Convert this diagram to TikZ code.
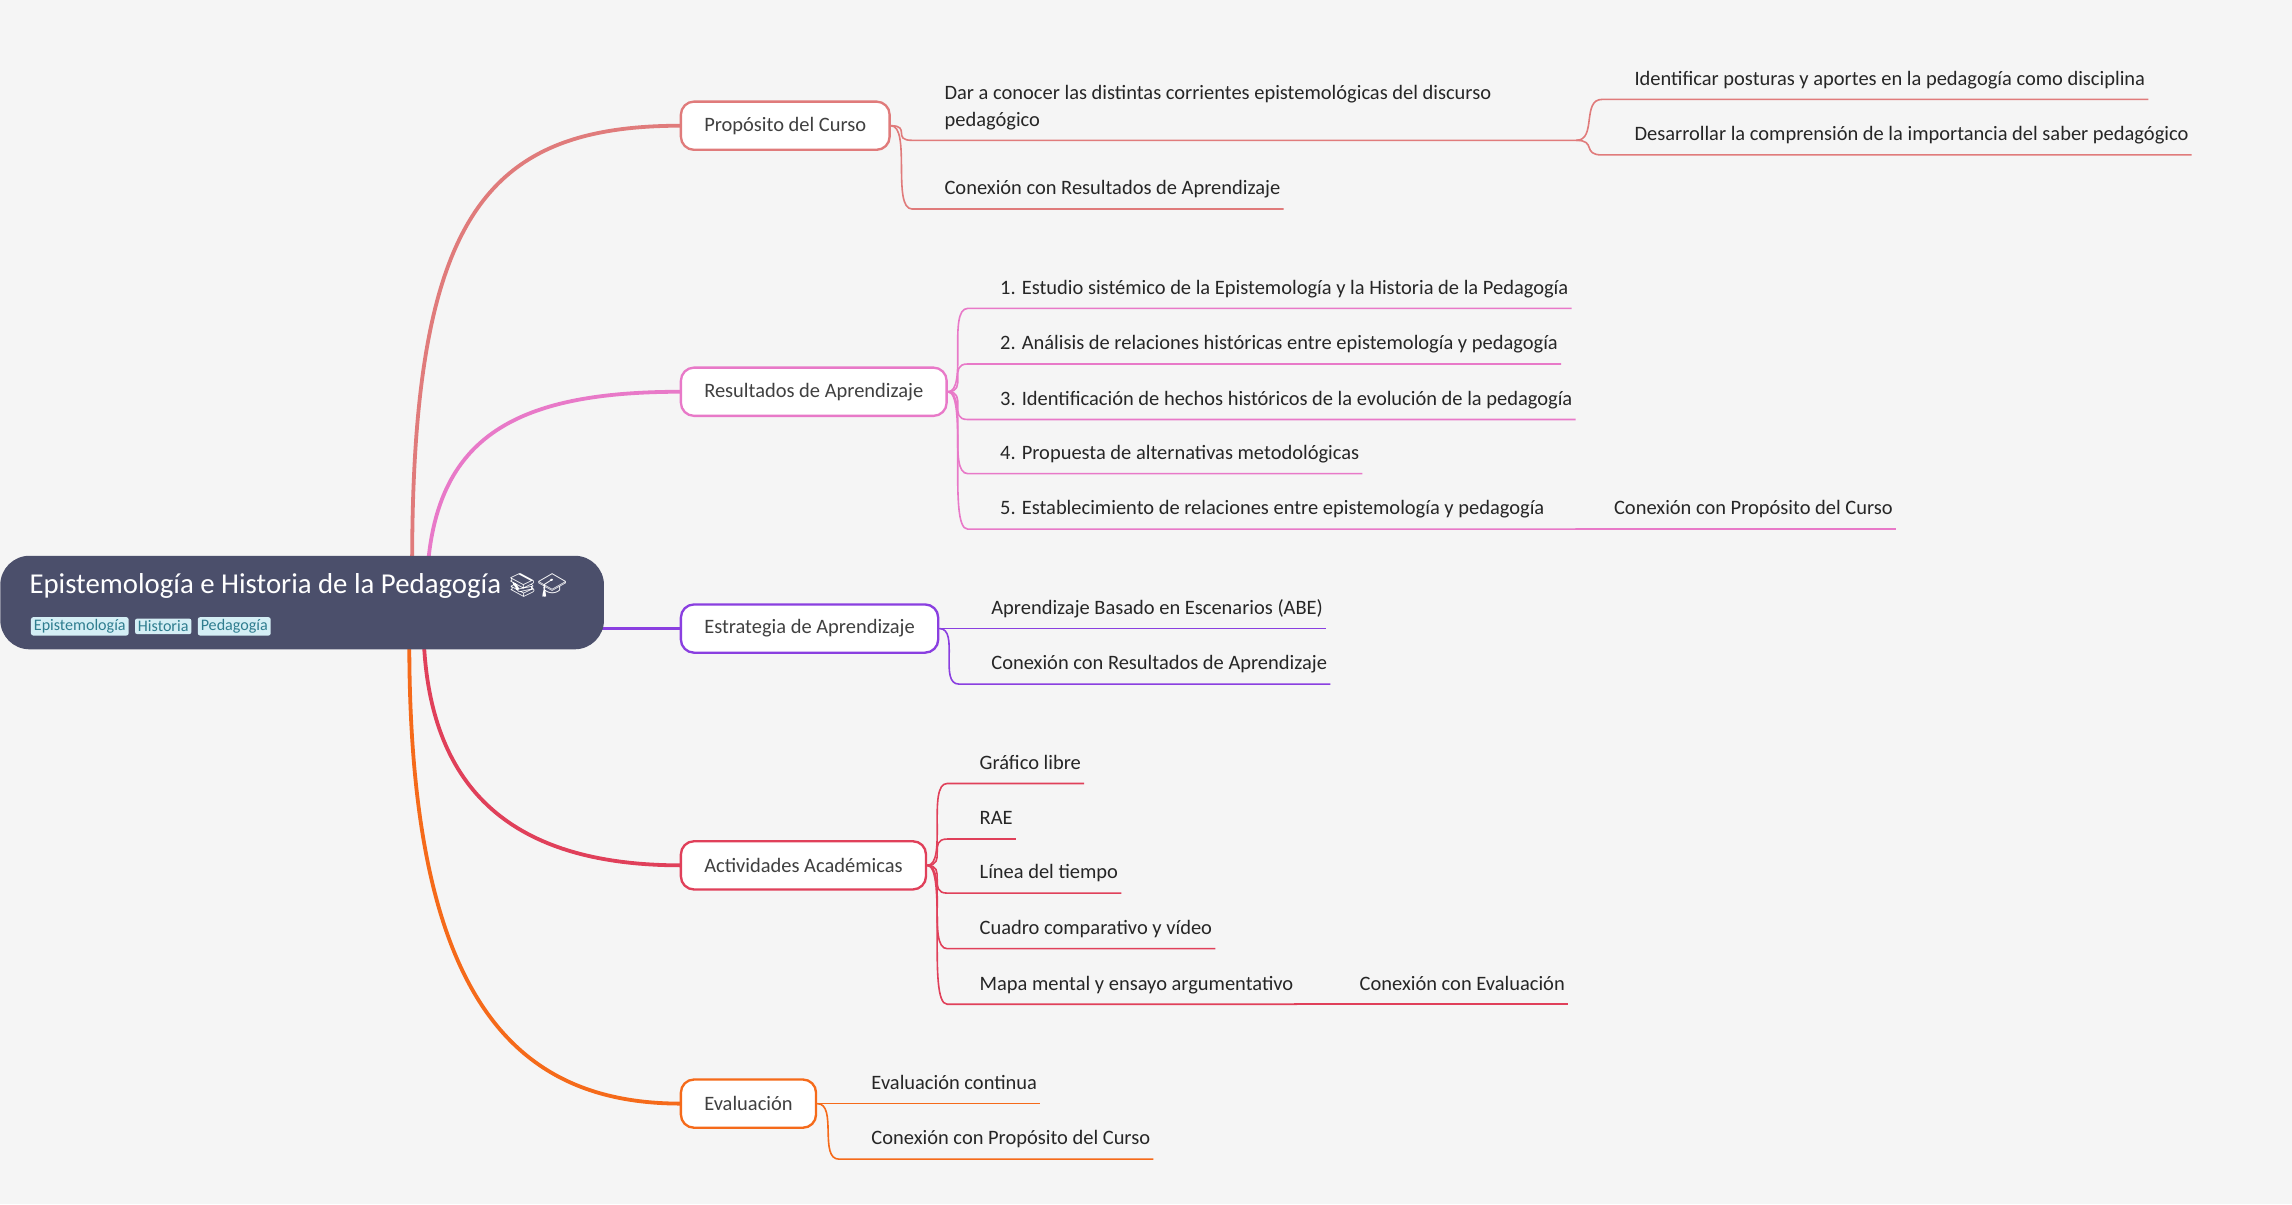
\documentclass[tikz,border=0pt]{standalone}
\usepackage{fontspec}
\usetikzlibrary{positioning}
\setmainfont{Carlito}
\newfontfamily\emojifont{Noto Emoji}
\definecolor{bgc}{HTML}{F5F5F5}
\definecolor{rootc}{HTML}{4B4F6B}
\definecolor{tagc}{HTML}{D4EEF5}
\definecolor{tagt}{HTML}{2F7D8F}
\definecolor{ca}{HTML}{E07B7B}
\definecolor{cb}{HTML}{E879C8}
\definecolor{cc}{HTML}{8A3FE0}
\definecolor{cd}{HTML}{E0405A}
\definecolor{ce}{HTML}{F56A1A}
\tikzset{
  branch/.style={draw=#1, line width=1.6pt, fill=white, rounded corners=9pt, minimum height=33pt, inner xsep=16pt, anchor=west, font=\fontsize{14}{16}\selectfont, text=black!75},
  leaf/.style={anchor=south west, inner xsep=0pt, inner ysep=6pt, text depth=3.5pt, align=left, font=\fontsize{14}{16}\selectfont, text=black!85},
  tag/.style={fill=tagc, text=tagt, rounded corners=1.5pt, inner xsep=2pt, inner ysep=1.5pt, font=\fontsize{11}{12}\selectfont},
  bline/.style={draw=#1, line width=2.6pt},
  lline/.style={draw=#1, line width=1.1pt},
}
\newcommand{\twig}[3]{\draw[lline=#1] (#2) .. controls +(14,0) and +(-14,0) .. ([xshift=-22]#3.south west) -- ([xshift=2]#3.south east);}
\begin{document}
\begin{tikzpicture}[x=1pt,y=-1pt]
\fill[bgc] (0,0) rectangle (1568,824);
\useasboundingbox (0,0) rectangle (1568,824);

% branches from the root
\draw[bline=ca] (282,400) .. controls (280,150) and (330,86) .. (466,86);
\draw[bline=cb] (292,400) .. controls (295,300) and (350,268) .. (466,268);
\draw[bline=cc] (400,430) -- (466,430);
\draw[bline=cd] (290,440) .. controls (295,540) and (350,592) .. (466,592);
\draw[bline=ce] (280,440) .. controls (280,680) and (350,755) .. (466,755);

% root
\node[fill=rootc, rounded corners=20pt, minimum width=413pt, minimum height=64pt, anchor=north west] (root) at (0,380) {};
\node[anchor=base west, text=white, font=\fontsize{19.7}{21}\selectfont, inner sep=0pt] (title) at (20,406) {Epistemología e Historia de la Pedagogía {\emojifont\fontsize{16}{17}\selectfont 📚🎓}};
\node[tag, anchor=west] (t1) at (21,428.5) {Epistemología};
\node[tag, right=4pt of t1] (t2) {Historia};
\node[tag, right=4pt of t2] (t3) {Pedagogía};

% main topics
\node[branch=ca] (prop) at (465,86) {Propósito del Curso};
\node[branch=cb] (res) at (465,268) {Resultados de Aprendizaje};
\node[branch=cc] (est) at (465,430) {Estrategia de Aprendizaje};
\node[branch=cd] (act) at (465,592) {Actividades Académicas};
\node[branch=ce] (eva) at (465,755) {Evaluación};

% Propósito del Curso
\node[leaf, font=\fontsize{14}{18}\selectfont] (p1) at (646,96) {\makebox[432pt][l]{Dar a conocer las distintas corrientes epistemológicas del discurso}\\pedagógico};
\node[leaf] (p2) at (646,143) {Conexión con Resultados de Aprendizaje};
\node[leaf] (p11) at (1118,68) {Identificar posturas y aportes en la pedagogía como disciplina};
\node[leaf] (p12) at (1118,106) {Desarrollar la comprensión de la importancia del saber pedagógico};
\twig{ca}{prop.east}{p1}
\twig{ca}{prop.east}{p2}
\twig{ca}{p1.south east}{p11}
\twig{ca}{p1.south east}{p12}

% Resultados de Aprendizaje
\node[leaf] (r1) at (684,211) {1. Estudio sistémico de la Epistemología y la Historia de la Pedagogía};
\node[leaf] (r2) at (684,249) {2. Análisis de relaciones históricas entre epistemología y pedagogía};
\node[leaf] (r3) at (684,287) {3. Identificación de hechos históricos de la evolución de la pedagogía};
\node[leaf] (r4) at (684,324) {4. Propuesta de alternativas metodológicas};
\node[leaf] (r5) at (684,362) {\makebox[396pt][l]{5. Establecimiento de relaciones entre epistemología y pedagogía}};
\node[leaf] (r51) at (1104,362) {Conexión con Propósito del Curso};
\foreach \n in {r1,r2,r3,r4,r5} {\twig{cb}{res.east}{\n}}
\twig{cb}{r5.south east}{r51}

% Estrategia de Aprendizaje
\node[leaf] (e1) at (678,430) {Aprendizaje Basado en Escenarios (ABE)};
\node[leaf] (e2) at (678,468) {Conexión con Resultados de Aprendizaje};
\foreach \n in {e1,e2} {\twig{cc}{est.east}{\n}}

% Actividades Académicas
\node[leaf] (a1) at (670,536) {Gráfico libre};
\node[leaf] (a2) at (670,574) {RAE};
\node[leaf] (a3) at (670,611) {Línea del tiempo};
\node[leaf] (a4) at (670,649) {Cuadro comparativo y vídeo};
\node[leaf] (a5) at (670,687) {\makebox[215pt][l]{Mapa mental y ensayo argumentativo}};
\node[leaf] (a51) at (930,687) {Conexión con Evaluación};
\foreach \n in {a1,a2,a3,a4,a5} {\twig{cd}{act.east}{\n}}
\twig{cd}{a5.south east}{a51}

% Evaluación
\node[leaf] (v1) at (596,755) {Evaluación continua};
\node[leaf] (v2) at (596,793) {Conexión con Propósito del Curso};
\foreach \n in {v1,v2} {\twig{ce}{eva.east}{\n}}
\end{tikzpicture}
\end{document}
